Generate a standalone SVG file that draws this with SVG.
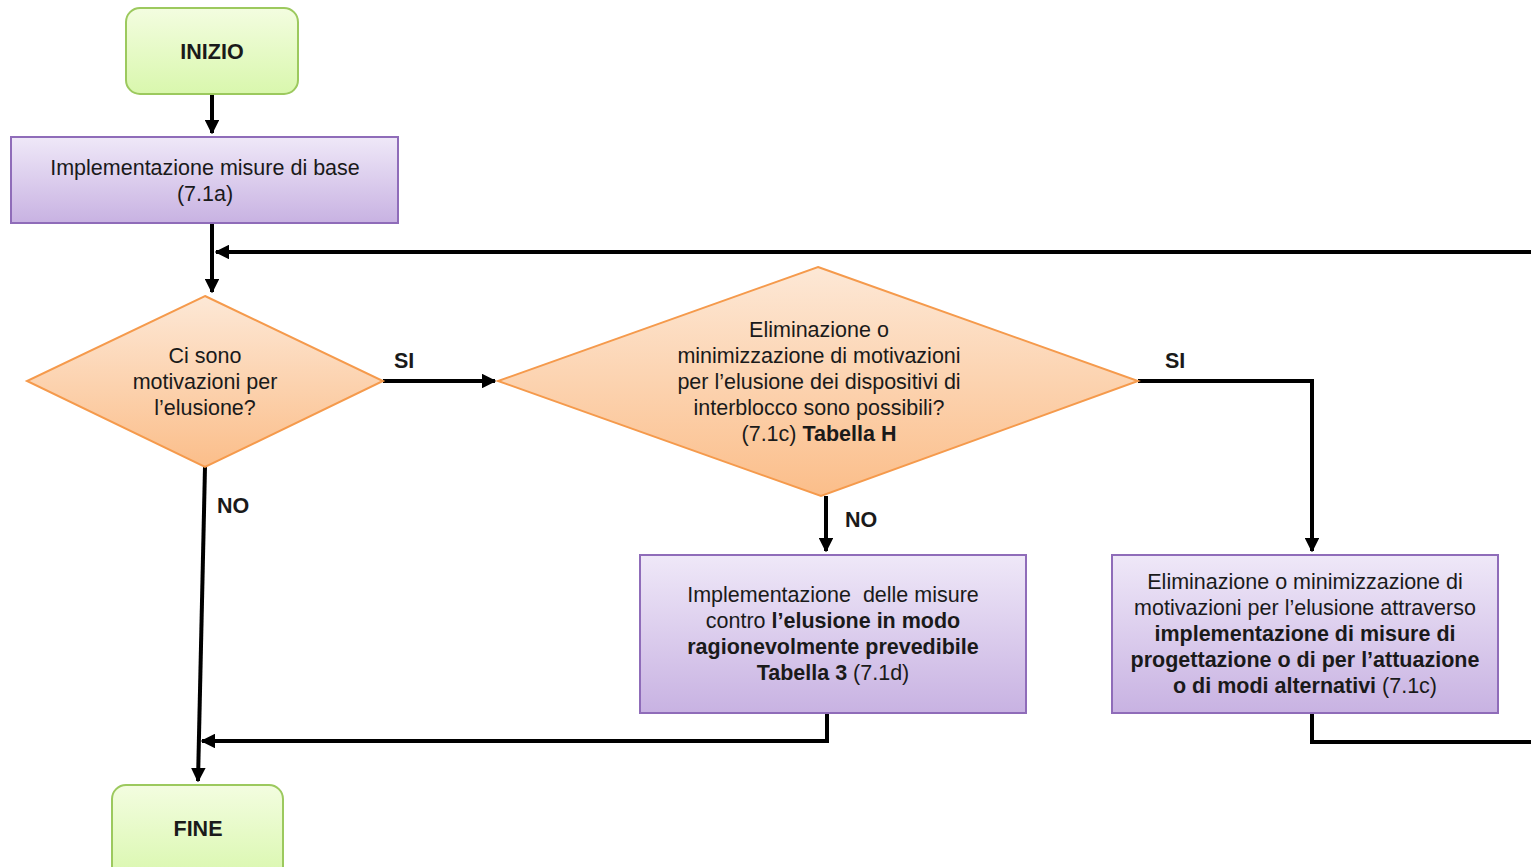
<svg xmlns="http://www.w3.org/2000/svg" width="1531" height="867" viewBox="0 0 1531 867">
<defs>
<linearGradient id="gGreen" x1="0" y1="0" x2="0" y2="1"><stop offset="0" stop-color="#f3fde0"/><stop offset="1" stop-color="#d9f7ad"/></linearGradient>
<linearGradient id="gPurple" x1="0" y1="0" x2="0" y2="1"><stop offset="0" stop-color="#efe8f8"/><stop offset="1" stop-color="#c8b2e2"/></linearGradient>
<linearGradient id="gOrange" x1="0" y1="0" x2="0" y2="1"><stop offset="0" stop-color="#fde8d6"/><stop offset="1" stop-color="#fbbe8a"/></linearGradient>
<marker id="arr" viewBox="0 0 10 10" refX="9" refY="5" markerWidth="3.7" markerHeight="3.7" orient="auto" markerUnits="strokeWidth"><path d="M0,0 L10,5 L0,10 z" fill="#000"/></marker>
</defs>
<style>
.term{fill:url(#gGreen);stroke:#9cc95e;stroke-width:2}
.proc{fill:url(#gPurple);stroke:#8f6cb9;stroke-width:2}
.dec{fill:url(#gOrange);stroke:#f59a4c;stroke-width:2}
text{font-family:"Liberation Sans",Arial,sans-serif;font-size:21.5px;fill:#1a1a1a;text-anchor:middle}
.b{font-weight:bold}
.c{fill:none;stroke:#000;stroke-width:4}
.lbl{font-weight:bold;font-size:21.5px;text-anchor:start}
</style>
<rect width="1531" height="867" fill="#fff"/>
<g id="connectors">
<path class="c" d="M212,94 L212,133" marker-end="url(#arr)"/>
<path class="c" d="M212,223 L212,292" marker-end="url(#arr)"/>
<path class="c" d="M1531,252 L216,252" marker-end="url(#arr)"/>
<path class="c" d="M383,381 L495,381" marker-end="url(#arr)"/>
<path class="c" d="M1138,381 L1312,381 L1312,551" marker-end="url(#arr)"/>
<path class="c" d="M826,496 L826,551" marker-end="url(#arr)"/>
<path class="c" d="M827,713 L827,741 L202,741" marker-end="url(#arr)"/>
<path class="c" d="M1312,713 L1312,742 L1531,742"/>
<path class="c" d="M205,467 L198,781" marker-end="url(#arr)"/>
<text class="lbl" x="394" y="368">SI</text>
<text class="lbl" x="1165" y="368">SI</text>
<text class="lbl" x="845" y="527">NO</text>
<text class="lbl" x="217" y="513">NO</text>
</g>
<g id="inizio">
<rect class="term" x="126" y="8" width="172" height="86" rx="14"/>
<text class="b" x="212" y="59">INIZIO</text>
</g>
<g id="misure-base">
<rect class="proc" x="11" y="137" width="387" height="86"/>
<text x="205" y="175">Implementazione misure di base</text>
<text x="205" y="201">(7.1a)</text>
</g>
<g id="decisione1">
<polygon class="dec" points="205,296 383,381 205,467 27,381"/>
<text x="205" y="363">Ci sono</text>
<text x="205" y="389">motivazioni per</text>
<text x="205" y="415">l’elusione?</text>
</g>
<g id="decisione2">
<polygon class="dec" points="818,267 1138,381 821,496 498,381"/>
<text x="819" y="337">Eliminazione o</text>
<text x="819" y="363">minimizzazione di motivazioni</text>
<text x="819" y="389">per l’elusione dei dispositivi di</text>
<text x="819" y="415">interblocco sono possibili?</text>
<text x="819" y="441">(7.1c) <tspan class="b">Tabella H</tspan></text>
</g>
<g id="misure-elusione">
<rect class="proc" x="640" y="555" width="386" height="158"/>
<text x="833" y="602">Implementazione&#160; delle misure</text>
<text x="833" y="628">contro <tspan class="b">l’elusione in modo</tspan></text>
<text x="833" y="654" class="b">ragionevolmente prevedibile</text>
<text x="833" y="680"><tspan class="b">Tabella 3</tspan> (7.1d)</text>
</g>
<g id="eliminazione">
<rect class="proc" x="1112" y="555" width="386" height="158"/>
<text x="1305" y="589">Eliminazione o minimizzazione di</text>
<text x="1305" y="615">motivazioni per l’elusione attraverso</text>
<text x="1305" y="641" class="b">implementazione di misure di</text>
<text x="1305" y="667" class="b">progettazione o di per l’attuazione</text>
<text x="1305" y="693"><tspan class="b">o di modi alternativi</tspan> (7.1c)</text>
</g>
<g id="fine">
<rect class="term" x="112" y="785" width="171" height="96" rx="14"/>
<text class="b" x="198" y="836">FINE</text>
</g>
</svg>
